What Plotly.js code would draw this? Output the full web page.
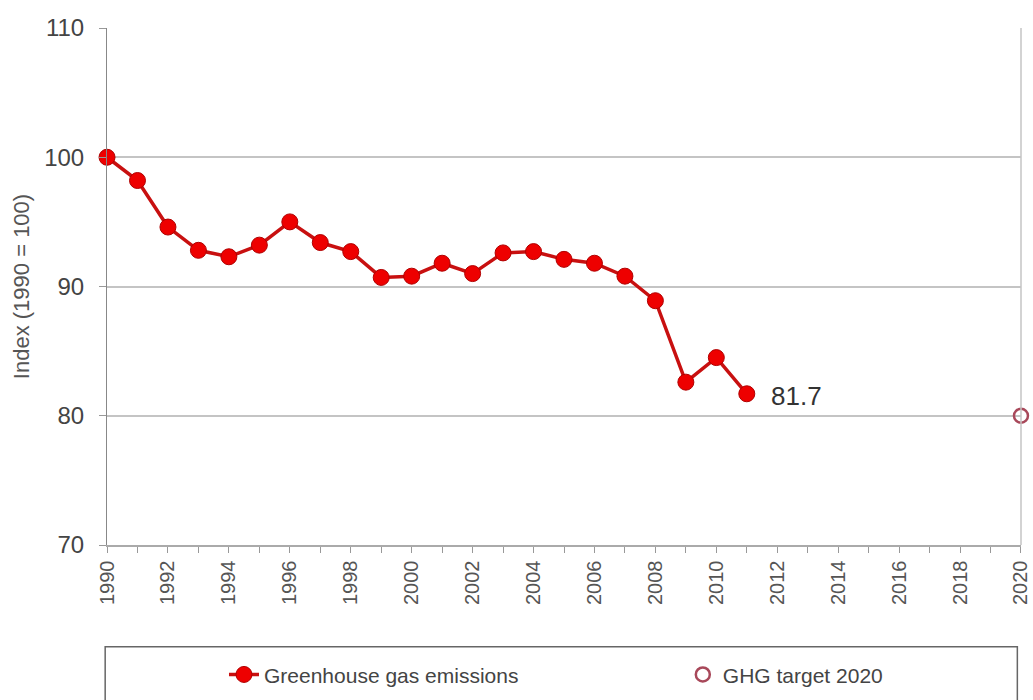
<!DOCTYPE html>
<html>
<head>
<meta charset="utf-8">
<script src="https://cdn.plot.ly/plotly-3.0.1.min.js"></script>
<style>html,body{margin:0;padding:0;background:#fff;}#chart{width:1033px;height:700px;}</style>
</head>
<body>
<div id="chart"></div>
<script>
const years = [1990,1991,1992,1993,1994,1995,1996,1997,1998,1999,2000,2001,2002,2003,2004,2005,2006,2007,2008,2009,2010,2011];
const emissions = [100,98.2,94.6,92.8,92.3,93.2,95.0,93.4,92.7,90.7,90.8,91.8,91.0,92.6,92.7,92.1,91.8,90.8,88.9,82.6,84.5,81.7];
const targetYear = [2020];
const targetValue = [80];
const seriesNames = ["Greenhouse gas emissions", "GHG target 2020"];
const lastLabel = "81.7";

const traces = [
  {
    x: years, y: emissions, name: seriesNames[0], type: "scatter", mode: "lines+markers",
    line: {color: "#c81010", width: 3.5},
    marker: {color: "#ee0000", size: 16, line: {color: "#b00000", width: 1}},
    cliponaxis: false, legend: "legend"
  },
  {
    x: targetYear, y: targetValue, name: seriesNames[1], type: "scatter", mode: "markers",
    marker: {symbol: "circle-open", color: "#a8485a", size: 14, line: {width: 2.5}},
    cliponaxis: false, legend: "legend2"
  }
];

const legendFont = {size: 21, color: "#444", family: "Liberation Sans, Arial, sans-serif"};
const layout = {
  width: 1033, height: 700,
  margin: {l: 107, r: 12, t: 28, b: 155, autoexpand: false},
  paper_bgcolor: "#fff", plot_bgcolor: "#fff",
  font: {family: "Liberation Sans, Arial, sans-serif", color: "#444"},
  showlegend: true,
  legend: {
    orientation: "h", xref: "paper", x: 0.128, xanchor: "left",
    yref: "container", y: 0.036, yanchor: "middle",
    bgcolor: "rgba(0,0,0,0)", font: legendFont
  },
  legend2: {
    orientation: "h", xref: "paper", x: 0.63, xanchor: "left",
    yref: "container", y: 0.036, yanchor: "middle",
    bgcolor: "rgba(0,0,0,0)", font: legendFont
  },
  xaxis: {
    range: [1989.999, 2020.001], dtick: 2, tick0: 1990, tickangle: -90,
    tickfont: {size: 20, color: "#555"}, ticklabeloverflow: "allow",
    ticks: "outside", ticklen: 6, tickcolor: "#999",
    minor: {dtick: 1, ticks: "outside", ticklen: 6, tickcolor: "#999"},
    showgrid: false, zeroline: false,
    showline: true, linecolor: "#aaa", linewidth: 1.5, mirror: false,
    automargin: false
  },
  yaxis: {
    range: [70, 110], dtick: 10, tick0: 70,
    tickfont: {size: 24, color: "#444"},
    ticks: "outside", ticklen: 7, tickcolor: "#999", ticklabelstandoff: 10,
    showgrid: true, gridcolor: "#c4c4c4", gridwidth: 2, zeroline: false,
    showline: true, linecolor: "#888", linewidth: 1,
    automargin: false,
    title: {text: "Index (1990 = 100)", font: {size: 22, color: "#555"}, standoff: 8}
  },
  shapes: [
    {type: "line", xref: "paper", yref: "paper", x0: 1, x1: 1, y0: 0, y1: 1, line: {color: "#c4c4c4", width: 1.5}},
    {type: "rect", xref: "paper", yref: "paper", x0: -0.002, x1: 0.996, y0: -0.197, y1: -0.32, line: {color: "#666", width: 1.5}, fillcolor: "rgba(0,0,0,0)"}
  ],
  annotations: [
    {x: years[years.length-1], y: emissions[emissions.length-1], xref: "x", yref: "y", text: lastLabel,
     showarrow: false, xanchor: "left", xshift: 22, yshift: -2, font: {size: 26, color: "#333"}}
  ]
};

Plotly.newPlot("chart", traces, layout, {displayModeBar: false, staticPlot: true});
</script>
</body>
</html>
